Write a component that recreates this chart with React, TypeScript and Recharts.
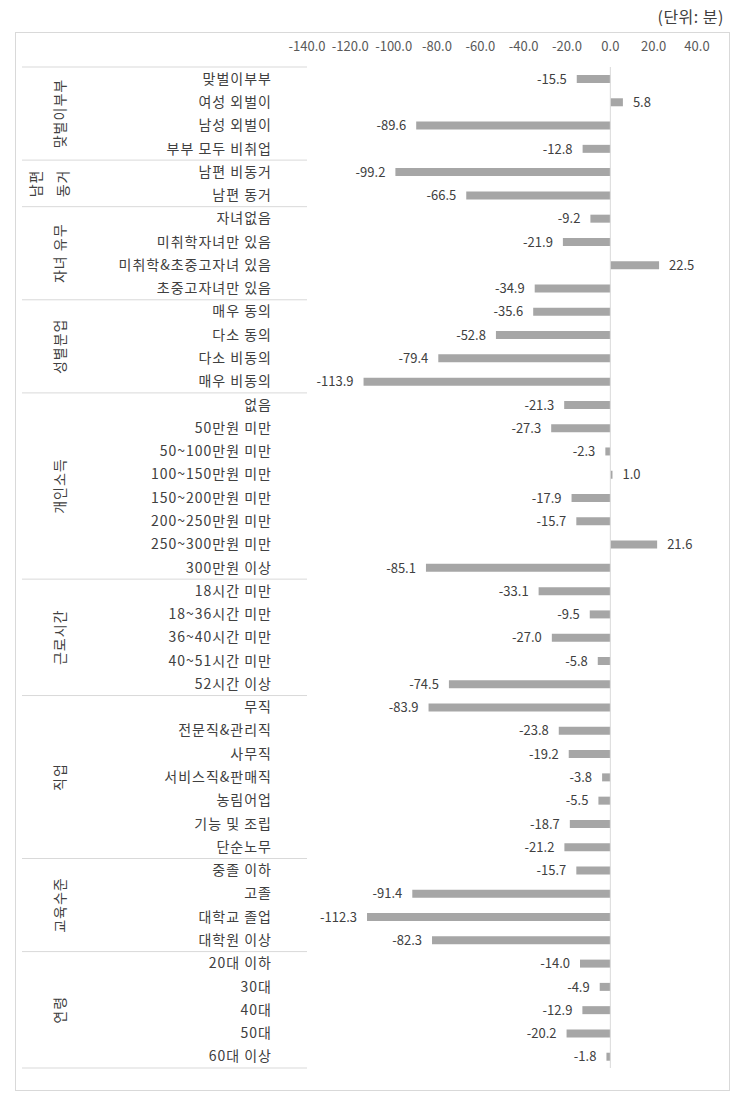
import React from "react";
import { BarChart, Bar, XAxis, YAxis, ReferenceLine, LabelList } from "recharts";

const categories = [
  "맞벌이부부", "여성 외벌이", "남성 외벌이", "부부 모두 비취업",
  "남편 비동거", "남편 동거",
  "자녀없음", "미취학자녀만 있음", "미취학&초중고자녀 있음", "초중고자녀만 있음",
  "매우 동의", "다소 동의", "다소 비동의", "매우 비동의",
  "없음", "50만원 미만", "50~100만원 미만", "100~150만원 미만", "150~200만원 미만", "200~250만원 미만", "250~300만원 미만", "300만원 이상",
  "18시간 미만", "18~36시간 미만", "36~40시간 미만", "40~51시간 미만", "52시간 이상",
  "무직", "전문직&관리직", "사무직", "서비스직&판매직", "농림어업", "기능 및 조립", "단순노무",
  "중졸 이하", "고졸", "대학교 졸업", "대학원 이상",
  "20대 이하", "30대", "40대", "50대", "60대 이상",
];

const values = [
  -15.5, 5.8, -89.6, -12.8,
  -99.2, -66.5,
  -9.2, -21.9, 22.5, -34.9,
  -35.6, -52.8, -79.4, -113.9,
  -21.3, -27.3, -2.3, 1.0, -17.9, -15.7, 21.6, -85.1,
  -33.1, -9.5, -27.0, -5.8, -74.5,
  -83.9, -23.8, -19.2, -3.8, -5.5, -18.7, -21.2,
  -15.7, -91.4, -112.3, -82.3,
  -14.0, -4.9, -12.9, -20.2, -1.8,
];

const groupNames = [
  ["맞벌이부부"], ["남편", "동거"], ["자녀 유무"], ["성별분업"], ["개인소득"],
  ["근로시간"], ["직업"], ["교육수준"], ["연령"],
];
const groupSizes = [4, 2, 4, 4, 8, 5, 7, 4, 5];

const xTicks = [-140, -120, -100, -80, -60, -40, -20, 0, 20, 40];

const data = categories.map((name, i) => ({ name, value: values[i] }));

// layout constants
const W = 749;
const H = 1105;
const M_TOP = 67;
const M_BOTTOM = 37;
const M_RIGHT = 52;
const Y_W = 307;
const FONT = "'Noto Sans CJK KR', 'Noto Sans', sans-serif";
const TXT = "#404040";
const GRID = "#d9d9d9";

// group index lookups
const groupStart: number[] = [];
const groupOf: number[] = [];
{
  let s = 0;
  groupSizes.forEach((n, g) => {
    groupStart.push(s);
    for (let k = 0; k < n; k++) groupOf.push(g);
    s += n;
  });
}

const YTick = (props: any) => {
  const { y, payload, index } = props;
  const i = typeof index === "number" ? index : categories.indexOf(payload.value);
  const fallbackStep = (H - M_TOP - M_BOTTOM) / categories.length;
  const half = payload && payload.offset ? payload.offset : fallbackStep / 2;
  const g = groupOf[i];
  const first = groupStart[g] === i;
  const last = groupStart[g] + groupSizes[g] - 1 === i;
  const n = groupSizes[g];
  const lines = groupNames[g];
  const cy = y + (n - 1) * half;
  return (
    <g>
      <text x={272} y={y} dy="0.36em" textAnchor="end" fill={TXT} fontSize={14} letterSpacing={1} fontFamily={FONT}>
        {payload.value}
      </text>
      {i === 0 && <line x1={22} x2={Y_W} y1={y - half} y2={y - half} stroke={GRID} strokeWidth={1} />}
      {last && <line x1={22} x2={Y_W} y1={y + half} y2={y + half} stroke={GRID} strokeWidth={1} />}
      {first &&
        lines.map((ln, k) => {
          const gx = lines.length === 1 ? 60 : k === 0 ? 36 : 63;
          return (
            <text
              key={k}
              x={gx}
              y={cy}
              dy="0.36em"
              textAnchor="middle"
              fill={TXT}
              fontSize={14}
              letterSpacing={1}
              fontFamily={FONT}
              transform={`rotate(-90 ${gx} ${cy})`}
            >
              {ln}
            </text>
          );
        })}
    </g>
  );
};

const XTick = (props: any) => {
  const { x, payload } = props;
  return (
    <text x={x} y={51} textAnchor="middle" fill="#595959" fontSize={13} fontFamily={FONT}>
      {Number(payload.value).toFixed(1)}
    </text>
  );
};

const ValueLabel = (props: any) => {
  const { x, y, width, height, value } = props;
  if (x == null || value == null) return null;
  const left = Math.min(x, x + width);
  const right = Math.max(x, x + width);
  const cy = y + height / 2;
  const neg = value < 0;
  return (
    <text
      x={neg ? left - 10 : right + 10}
      y={cy}
      dy="0.36em"
      textAnchor={neg ? "end" : "start"}
      fill={TXT}
      fontSize={13}
      fontFamily={FONT}
    >
      {Number(value).toFixed(1)}
    </text>
  );
};

export default function App() {
  return (
    <div style={{ position: "absolute", left: 0, top: 0, width: W, height: H, background: "#fff" }}>
      <div
        style={{
          position: "absolute",
          left: 15,
          top: 32,
          width: 713,
          height: 1057,
          border: `1px solid ${GRID}`,
        }}
      />
      <div
        style={{
          position: "absolute",
          right: 25,
          top: 4,
          fontFamily: FONT,
          fontSize: 16,
          color: TXT,
          letterSpacing: 0.5,
        }}
      >
        (단위: 분)
      </div>
      <div style={{ position: "absolute", left: 0, top: 0 }}>
        <BarChart
          width={W}
          height={H}
          data={data}
          layout="vertical"
          margin={{ top: M_TOP - 30, right: M_RIGHT, bottom: M_BOTTOM, left: 0 }}
          barCategoryGap={0}
        >
          <XAxis
            type="number"
            orientation="top"
            domain={[-140, 40]}
            ticks={xTicks}
            height={30}
            axisLine={false}
            tickLine={false}
            tick={<XTick />}
            interval={0}
            allowDataOverflow
          />
          <YAxis
            type="category"
            dataKey="name"
            width={Y_W}
            axisLine={false}
            tickLine={false}
            tick={<YTick />}
            interval={0}
          />
          <ReferenceLine x={0} stroke={GRID} strokeWidth={1} />
          <Bar dataKey="value" fill="#a6a6a6" barSize={8} isAnimationActive={false}>
            <LabelList dataKey="value" content={<ValueLabel />} />
          </Bar>
        </BarChart>
      </div>
    </div>
  );
}
